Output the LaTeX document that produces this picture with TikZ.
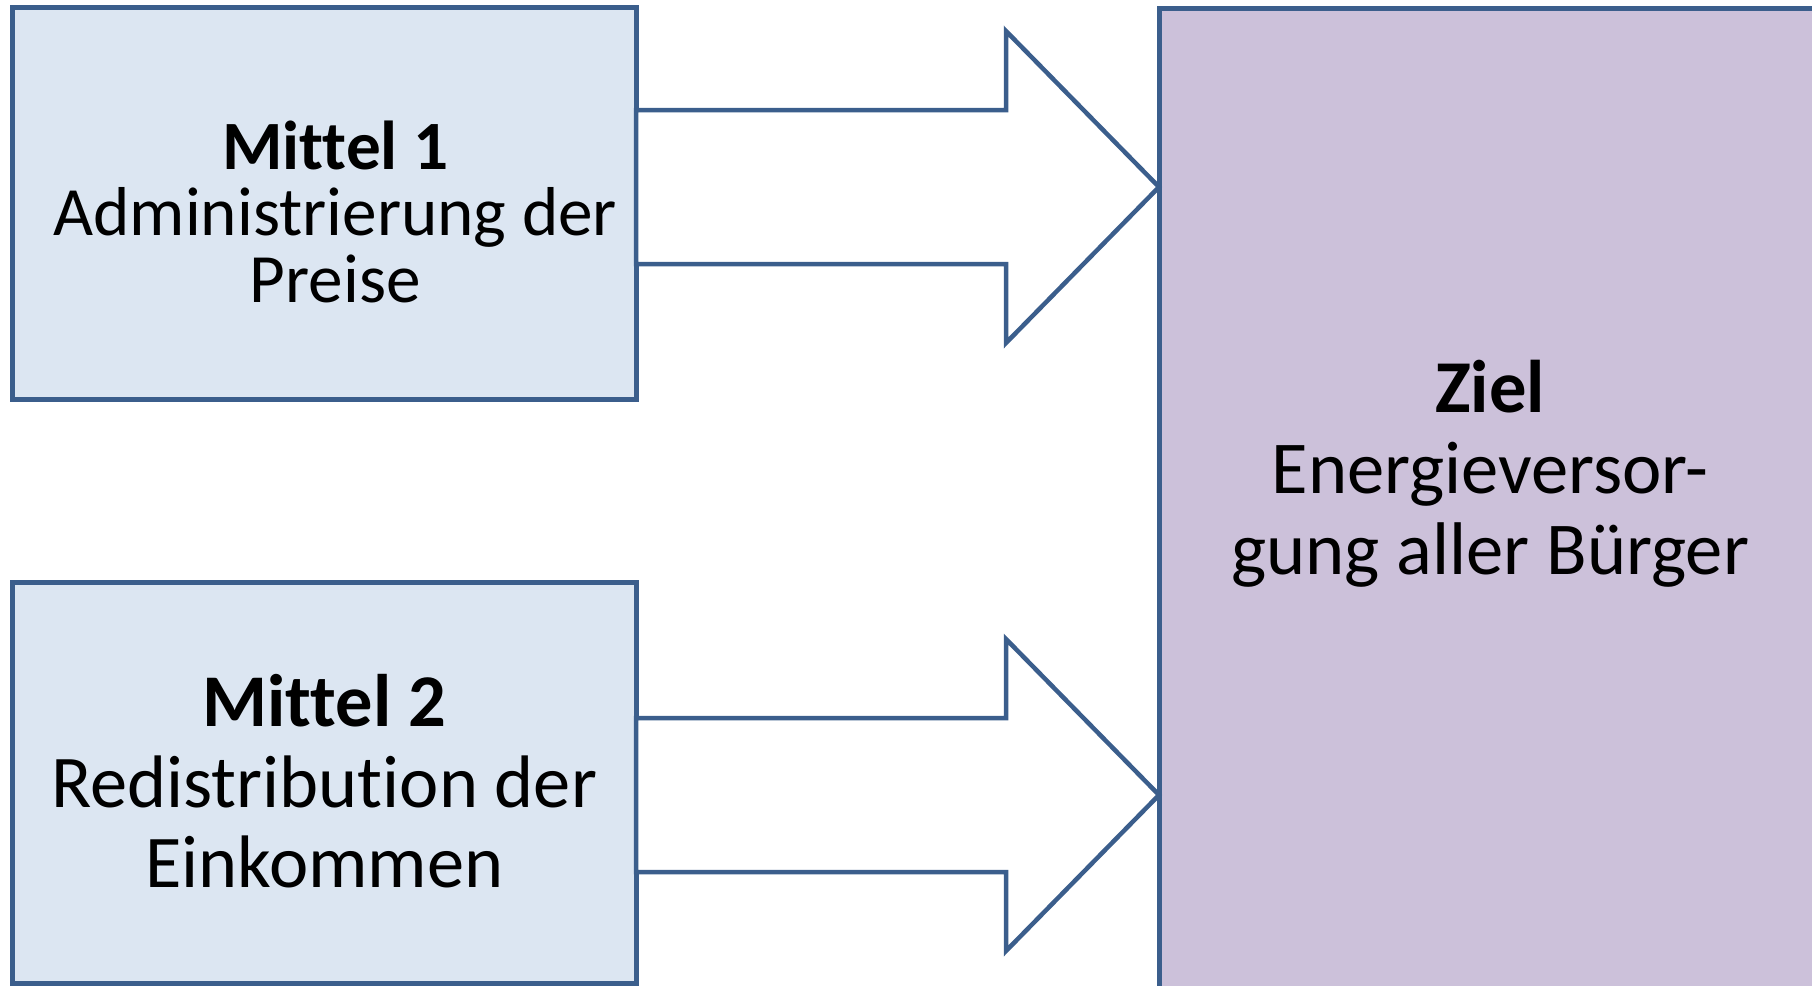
\documentclass[tikz,border=0pt]{standalone}
\usepackage{fontspec}
\setmainfont{Carlito}[Ligatures={NoCommon}]
\usetikzlibrary{positioning, calc}
\definecolor{rahmen}{HTML}{3B5E8C}
\definecolor{mittelblau}{HTML}{DCE6F2}
\definecolor{zielviolett}{HTML}{CCC1DA}
\tikzset{
x=0.5pt, y=-0.5pt, % one unit is one pixel, y runs downwards
mittel/.style={draw=rahmen, fill=mittelblau, line width=2.5pt, outer sep=0pt, minimum width=311.75pt}, % the two boxes on the left
zielbox/.style={draw=rahmen, fill=zielviolett, line width=2.5pt, outer sep=0pt, minimum width=350pt, minimum height=500pt}, % the big box on the right
pfeil/.style={draw=rahmen, fill=white, line width=2.25pt, line join=miter}, % block arrows
beschriftung/.style={align=center, inner sep=0pt}, % texts inside the boxes
}

\begin{document}
\begin{tikzpicture}
        \useasboundingbox (0,0) rectangle (1812,986);
        \clip (0,0) rectangle (1812,986);

        \node[mittel, minimum height=196pt, anchor=north west] (m1) at (12.5,7.5) {};
        \node[mittel, minimum height=200.5pt, below=91.25pt of m1] (m2) {};
        \node[zielbox, anchor=north west] (ziel) at (1159,8) {};

        \node[beschriftung, font=\fontsize{34.6}{33.25}\selectfont] (m1text) at ($(m1.center)+(11,8)$) {\textbf{Mittel 1}\\Administrierung der\\Preise};
        \node[beschriftung, font=\fontsize{37.2}{40.25}\selectfont] (m2text) at ($(m2.center)+(0,-1)$) {\textbf{Mittel 2}\\Redistribution der\\Einkommen};
        \node[beschriftung, font=\fontsize{37.3}{40.5}\selectfont] (zieltext) at (1490,474) {\textbf{Ziel}\\Energieversor-\\gung aller Bürger};

        \coordinate (t1) at (ziel.west |- 0,187);
        \coordinate (t2) at (ziel.west |- 0,795);

        \draw[pfeil] (m1.east |- 0,110) -- ++(370,0) -- ++(0,-79) -- (t1) -- ++(-153,156) -- ++(0,-79) -- (m1.east |- 0,264) -- cycle;
        \draw[pfeil] (m2.east |- 0,718) -- ++(370,0) -- ++(0,-79) -- (t2) -- ++(-153,156) -- ++(0,-79) -- (m2.east |- 0,872) -- cycle;
      \end{tikzpicture}
\end{document}
